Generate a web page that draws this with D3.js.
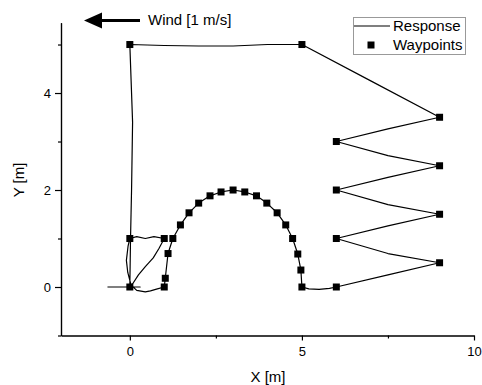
<!DOCTYPE html>
<html>
<head>
<meta charset="utf-8">
<script src="https://cdn.jsdelivr.net/npm/d3@7"></script>
<style>
  body { margin: 0; background: #fff; }
  svg { display: block; font-family: "Liberation Sans", Arial, sans-serif; }
  .axis path, .axis line { stroke: #000; stroke-width: 1.2; }
  .axis text { font-size: 13px; fill: #000; }
</style>
</head>
<body>
<svg id="chart" width="482" height="385"></svg>
<script>
// Waypoints
const waypointX = [0, 0, 1, 1, 1.03, 1.11, 1.25, 1.47, 1.72, 2.0, 2.33, 2.65, 3.0, 3.34, 3.68, 3.98, 4.28, 4.53, 4.73, 4.88, 4.97, 5, 6, 9, 6, 9, 6, 9, 6, 9, 5, 0];
const waypointY = [0, 1, 1, 0, 0.18, 0.69, 1.0, 1.28, 1.53, 1.73, 1.88, 1.96, 2.0, 1.96, 1.88, 1.73, 1.53, 1.28, 1.0, 0.68, 0.35, 0, 0, 0.5, 1, 1.5, 2, 2.5, 3, 3.5, 5, 5];

// Response trajectory, estimated
const responseX = [-0.65, 0.3, 0.05, -0.06, -0.1, -0.05, 0, 0.2, 0.45, 0.7, 1, 0.85, 0.68, 0.45, 0.25, 0.05,
  0.2, 0.45, 0.6, 0.8, 1, 1.03, 1.11, 1.25, 1.47, 1.72, 2.0, 2.33, 2.65, 3.0, 3.34, 3.68, 3.98, 4.28, 4.53, 4.73, 4.88, 4.97, 5,
  5.2, 5.5, 5.8, 6, 7.5, 9, 7.5, 6, 7.5, 9, 7.5, 6, 7.5, 9, 7.5, 6, 7.5, 9, 7, 5, 4, 3, 2, 1, 0, 0.08, 0.05, 0.02, 0];
const responseY = [0, 0, 0, 0.3, 0.55, 0.85, 1, 1.04, 1.0, 1.04, 1, 0.8, 0.6, 0.42, 0.25, 0.03,
  -0.07, -0.1, -0.08, -0.04, 0, 0.18, 0.69, 1.0, 1.28, 1.53, 1.73, 1.88, 1.96, 2.0, 1.96, 1.88, 1.73, 1.53, 1.28, 1.0, 0.68, 0.35, 0,
  -0.04, -0.05, -0.03, 0, 0.25, 0.5, 0.69, 1, 1.26, 1.5, 1.7, 2, 2.26, 2.5, 2.71, 3, 3.26, 3.5, 4.25, 5, 5.0, 4.97, 4.97, 4.98, 5, 3.4, 2.0, 1.0, 0];

const xMajor = [0, 5, 10];
const xMinor = [2.5, 7.5];
const yMajor = [0, 2, 4];
const yMinor = [-1, 1, 3, 5];

const svg = d3.select("#chart");
const x = d3.scaleLinear().domain([-2, 10]).range([61, 474]);
const y = d3.scaleLinear().domain([-1, 5.45]).range([335.5, 22.7]);
const fmt = d3.format("d");

// axes
svg.append("g").attr("class", "axis").attr("transform", "translate(0,335.5)")
  .call(d3.axisBottom(x).tickValues(xMinor).tickSize(3).tickSizeOuter(0).tickFormat(""));
svg.append("g").attr("class", "axis").attr("transform", "translate(0,335.5)")
  .call(d3.axisBottom(x).tickValues(xMajor).tickSize(5).tickSizeOuter(0).tickPadding(6).tickFormat(fmt));
svg.append("g").attr("class", "axis").attr("transform", "translate(61,0)")
  .call(d3.axisLeft(y).tickValues(yMinor).tickSize(3).tickSizeOuter(0).tickFormat(""));
svg.append("g").attr("class", "axis").attr("transform", "translate(61,0)")
  .call(d3.axisLeft(y).tickValues(yMajor).tickSize(6).tickSizeOuter(0).tickPadding(4).tickFormat(fmt));

svg.append("text").attr("x", 268).attr("y", 382).attr("text-anchor", "middle")
  .attr("font-size", 15).text("X [m]");
svg.append("text").attr("transform", "translate(24,180) rotate(-90)").attr("text-anchor", "middle")
  .attr("font-size", 15).text("Y [m]");

// response line
const line = d3.line().x(i => x(responseX[i])).y(i => y(responseY[i]));
svg.append("path")
  .attr("d", line(d3.range(responseX.length)))
  .attr("fill", "none").attr("stroke", "#000").attr("stroke-width", 1.2)
  .attr("stroke-linejoin", "round");

// waypoints
svg.append("g").selectAll("rect")
  .data(d3.range(waypointX.length))
  .join("rect")
  .attr("x", i => x(waypointX[i]) - 3.5)
  .attr("y", i => y(waypointY[i]) - 3.5)
  .attr("width", 7).attr("height", 7)
  .attr("fill", "#000");

// wind arrow
svg.append("line").attr("x1", 100).attr("x2", 140).attr("y1", 20.5).attr("y2", 20.5)
  .attr("stroke", "#000").attr("stroke-width", 3);
svg.append("path").attr("d", "M84,20.5L102,12.5L102,28.5Z").attr("fill", "#000");
svg.append("text").attr("x", 148).attr("y", 25).attr("font-size", 15).text("Wind [1 m/s]");

// legend
const legend = svg.append("g");
legend.append("rect").attr("x", 353.5).attr("y", 17.5).attr("width", 112).attr("height", 37)
  .attr("fill", "#fff").attr("stroke", "#999").attr("stroke-width", 1);
legend.append("line").attr("x1", 354).attr("x2", 390).attr("y1", 26).attr("y2", 26)
  .attr("stroke", "#000").attr("stroke-width", 1.2);
legend.append("rect").attr("x", 367.5).attr("y", 41.5).attr("width", 7).attr("height", 7).attr("fill", "#000");
legend.append("text").attr("x", 393).attr("y", 31).attr("font-size", 15).text("Response");
legend.append("text").attr("x", 393).attr("y", 50).attr("font-size", 15).text("Waypoints");
</script>
</body>
</html>
